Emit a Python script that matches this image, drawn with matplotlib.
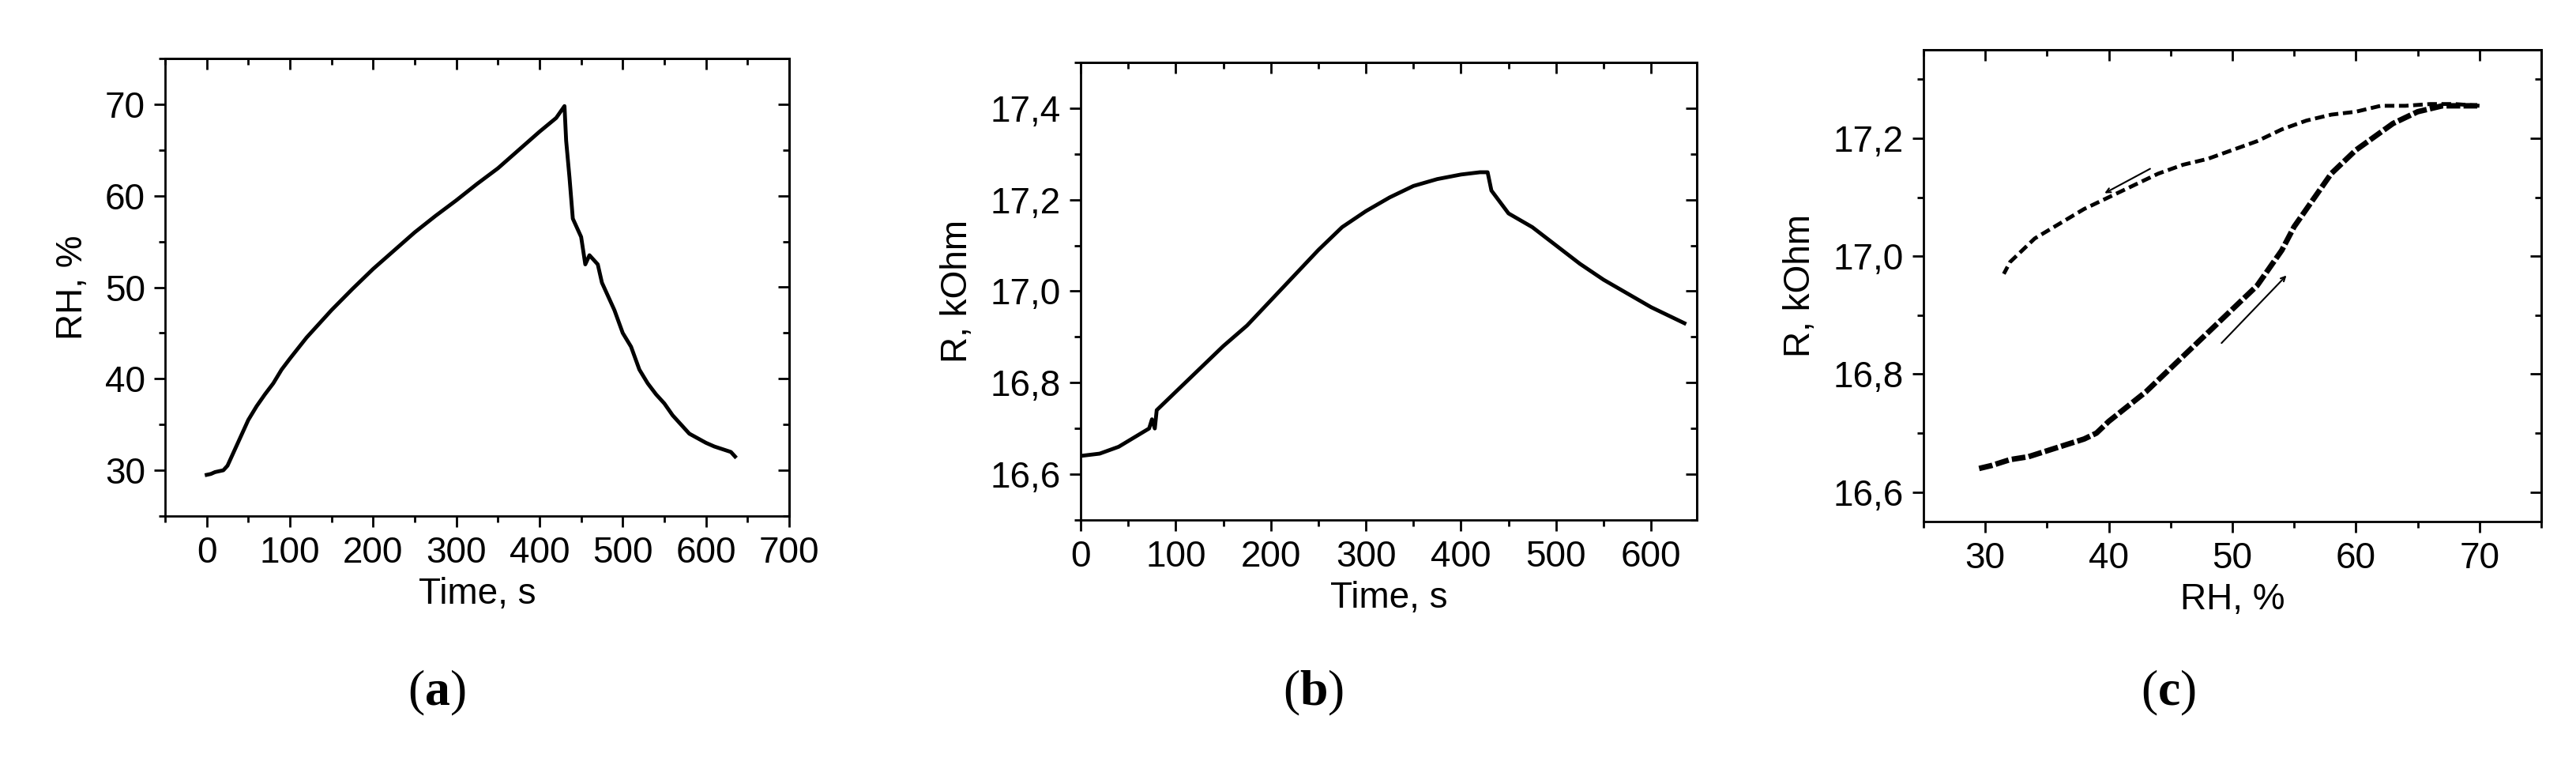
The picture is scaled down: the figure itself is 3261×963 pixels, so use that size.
import matplotlib
matplotlib.use("Agg")
import matplotlib.pyplot as plt
from matplotlib.ticker import MultipleLocator, FuncFormatter

plt.rcParams['font.family'] = ['Liberation Sans', 'DejaVu Sans']
plt.rcParams['mathtext.fontset'] = 'custom'
plt.rcParams['mathtext.bf'] = 'Liberation Serif:bold'
plt.rcParams['mathtext.rm'] = 'Liberation Serif'

# Panel (a): RH vs time
t_a = [0, 5, 10, 20, 25, 30, 40, 50, 60, 70, 80, 90, 100, 120, 150, 175, 200, 225, 250, 275, 300,
       325, 350, 375, 400, 420, 430, 432, 436, 440, 450, 455, 460, 470, 475, 480, 490, 500, 510,
       520, 530, 540, 550, 560, 570, 580, 590, 600, 610, 620, 630, 635]
rh_a = [29.5, 29.6, 29.8, 30.0, 30.5, 31.5, 33.5, 35.5, 37.0, 38.3, 39.5, 41.0, 42.2, 44.5, 47.5,
        49.8, 52.0, 54.0, 56.0, 57.8, 59.5, 61.3, 63.0, 65.0, 67.0, 68.5, 69.8, 66.0, 62.0, 57.5,
        55.5, 52.5, 53.5, 52.5, 50.5, 49.5, 47.5, 45.0, 43.5, 41.0, 39.5, 38.3, 37.3, 36.0, 35.0,
        34.0, 33.5, 33.0, 32.6, 32.3, 32.0, 31.5]

# Panel (b): R vs time
t_b = [0, 20, 40, 60, 72, 75, 78, 80, 100, 125, 150, 175, 200, 225, 250, 275, 300, 325, 350,
       375, 400, 420, 428, 432, 450, 475, 500, 525, 550, 575, 600, 620, 635]
r_b = [16.64, 16.645, 16.66, 16.685, 16.70, 16.72, 16.70, 16.74, 16.78, 16.83, 16.88, 16.925,
       16.98, 17.035, 17.09, 17.14, 17.175, 17.205, 17.23, 17.245, 17.255, 17.26, 17.26, 17.22,
       17.17, 17.14, 17.10, 17.06, 17.025, 16.995, 16.965, 16.945, 16.93]

# Panel (c): R vs RH, sorption (up) and desorption (down)
rh_up = [29.5, 30.5, 32, 33.5, 35, 36.5, 38, 39, 40, 41.5, 43, 44.5, 46, 47.5, 49, 50.5, 52, 53,
         54, 55, 56, 57, 58, 59, 60, 61, 62, 63, 64, 65, 66, 67, 68, 69, 70]
r_up = [16.64, 16.645, 16.655, 16.66, 16.67, 16.68, 16.69, 16.70, 16.72, 16.745, 16.77, 16.80,
        16.83, 16.86, 16.89, 16.92, 16.95, 16.98, 17.01, 17.05, 17.08, 17.11, 17.14, 17.16, 17.18,
        17.195, 17.21, 17.225, 17.235, 17.245, 17.25, 17.255, 17.255, 17.255, 17.255]
rh_dn = [70, 68, 66, 64, 62, 60, 58, 56, 54, 52, 50, 48, 46, 44, 42, 40, 38, 36, 34, 33, 32, 31.5]
r_dn = [17.255, 17.258, 17.258, 17.255, 17.255, 17.245, 17.24, 17.23, 17.215, 17.195, 17.18,
        17.165, 17.155, 17.14, 17.12, 17.1, 17.08, 17.055, 17.03, 17.01, 16.99, 16.97]

W, H = 3262, 963
fig = plt.figure(figsize=(W / 100, H / 100), dpi=100)

TICK_FS = 33
LAB_FS = 33


def style(ax, xmaj, xmin, ymaj, ymin, comma=False):
    for s in ax.spines.values():
        s.set_linewidth(2)
    ax.xaxis.set_major_locator(MultipleLocator(xmaj))
    ax.xaxis.set_minor_locator(MultipleLocator(xmin))
    ax.yaxis.set_major_locator(MultipleLocator(ymaj))
    ax.yaxis.set_minor_locator(MultipleLocator(ymin))
    ax.tick_params(which='both', direction='out', width=2, labelsize=TICK_FS,
                   top=False, right=False, pad=8)
    ax.tick_params(which='major', length=10)
    ax.tick_params(which='minor', length=6)
    if comma:
        ax.yaxis.set_major_formatter(FuncFormatter(lambda v, p: f"{v:.1f}".replace('.', ',')))
    sec = ax.secondary_xaxis('top')
    sec.xaxis.set_major_locator(MultipleLocator(xmaj))
    sec.xaxis.set_minor_locator(MultipleLocator(xmin))
    sec.tick_params(which='both', direction='in', width=2, labeltop=False)
    sec.tick_params(which='major', length=10)
    sec.tick_params(which='minor', length=6)
    sec.spines['top'].set_linewidth(2)
    secy = ax.secondary_yaxis('right')
    secy.yaxis.set_major_locator(MultipleLocator(ymaj))
    secy.yaxis.set_minor_locator(MultipleLocator(ymin))
    secy.tick_params(which='both', direction='in', width=2, labelright=False)
    secy.tick_params(which='major', length=10)
    secy.tick_params(which='minor', length=6)
    secy.spines['right'].set_linewidth(2)


ax1 = fig.add_axes([209 / W, 1 - 653 / H, 790 / W, 579 / H])
ax1.plot(t_a, rh_a, color='black', lw=3.5)
ax1.set_xlim(-50, 700)
ax1.set_ylim(25, 75)
style(ax1, 100, 50, 10, 5)
ax1.set_xlabel('Time, s', fontsize=LAB_FS, labelpad=6)
ax1.set_ylabel('RH, %', fontsize=LAB_FS, labelpad=14)

ax2 = fig.add_axes([1368 / W, 1 - 658 / H, 780 / W, 579 / H])
ax2.plot(t_b, r_b, color='black', lw=3.5)
ax2.set_xlim(0, 648)
ax2.set_ylim(16.5, 17.5)
style(ax2, 100, 50, 0.2, 0.1, comma=True)
ax2.set_xlabel('Time, s', fontsize=LAB_FS, labelpad=6)
ax2.set_ylabel('R, kOhm', fontsize=LAB_FS, labelpad=14)

ax3 = fig.add_axes([2435 / W, 1 - 660 / H, 782 / W, 597 / H])
ax3.plot(rh_up, r_up, color='black', lw=5, ls=(0, (2.5, 0.6)))
ax3.plot(rh_dn, r_dn, color='black', lw=3.5, ls=(0, (2.5, 1.2)))
ax3.set_xlim(25, 75)
ax3.set_ylim(16.55, 17.35)
style(ax3, 10, 5, 0.2, 0.1, comma=True)
ax3.set_xlabel('RH, %', fontsize=LAB_FS, labelpad=6)
ax3.set_ylabel('R, kOhm', fontsize=LAB_FS, labelpad=14)
ax3.annotate('', xy=(39.5, 17.105), xytext=(43.5, 17.15),
             arrowprops=dict(arrowstyle='->', color='black', lw=1.5))
ax3.annotate('', xy=(54.5, 16.97), xytext=(49, 16.85),
             arrowprops=dict(arrowstyle='->', color='black', lw=1.5))

for lab, xc in (('a', 553), ('b', 1663), ('c', 2745)):
    fig.text(xc / W, 1 - 877 / H, r'$\mathrm{(}\mathbf{' + lab + r'}\mathrm{)}$',
             ha='center', va='center', fontsize=46)

fig.savefig('out.png', dpi=100)
